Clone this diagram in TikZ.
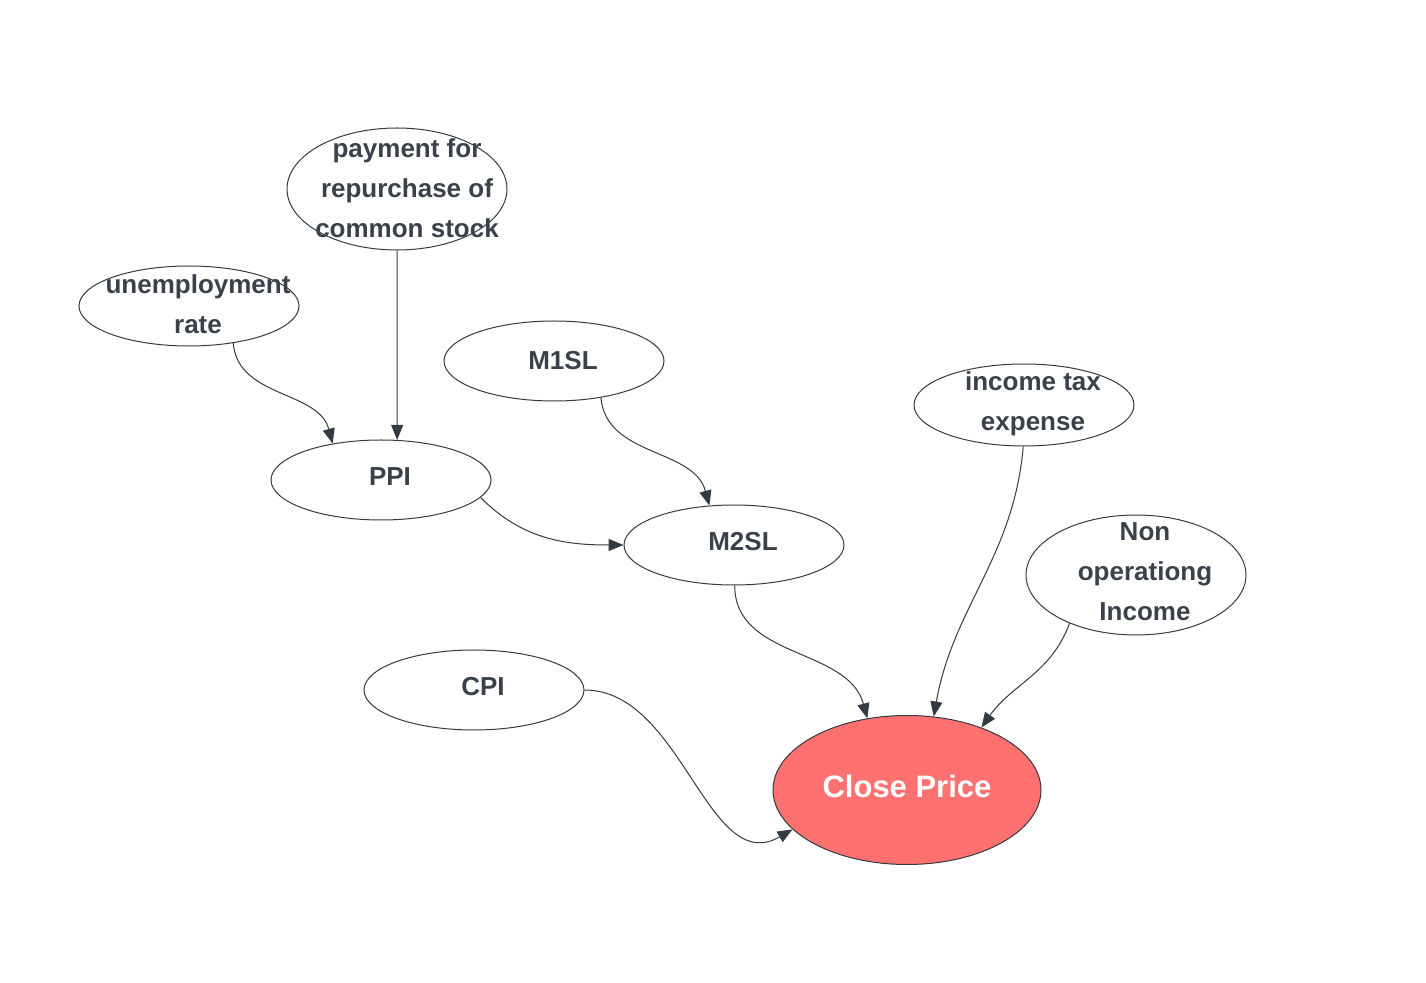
\documentclass[tikz,border=0pt]{standalone}
\usepackage{fontspec}
\setmainfont{Liberation Sans}
\usetikzlibrary{shapes.geometric,arrows.meta}
\definecolor{linec}{HTML}{333A42}
\definecolor{txtc}{HTML}{3A414A}
\definecolor{closec}{HTML}{FF7070}
\begin{document}
\begin{tikzpicture}[x=0.5pt,y=-0.5pt]
\tikzset{
  var/.style={ellipse, draw=linec, line width=0.5pt, inner sep=0pt,
    minimum width=110pt, minimum height=40pt},
  lbl/.style={font=\bfseries\fontsize{13}{20}\selectfont, text=txtc, align=center, inner sep=0pt},
  link/.style={draw=linec, line width=0.5pt, -{Triangle[length=7.5pt,width=6pt]}}
}
\useasboundingbox (0,0) rectangle (1426,983);
% variables
\node [var, minimum height=61pt] (pay) at (397,189) {};
\node [lbl] (pay-t) at (407,188) {payment for\\repurchase of\\common stock};
\node [var] (unemp) at (189,306) {};
\node [lbl] (unemp-t) at (198,304) {unemployment\\rate};
\node [var] (m1) at (554,361) {};
\node [lbl] (m1-t) at (563,361) {M1SL};
\node [var] (ppi) at (381,480) {};
\node [lbl] (ppi-t) at (390,477) {PPI};
\node [var] (m2) at (734,545) {};
\node [lbl] (m2-t) at (743,542) {M2SL};
\node [var, minimum height=41pt] (inc) at (1024,405) {};
\node [lbl] (inc-t) at (1033,404) {income tax\\expense};
\node [var, minimum height=60pt] (nonop) at (1136,575) {};
\node [lbl] (nonop-t) at (1145,572) {Non\\operationg\\Income};
\node [var] (cpi) at (474,690) {};
\node [lbl] (cpi-t) at (483,687) {CPI};
\node [var, fill=closec, minimum width=134pt, minimum height=74.5pt] (close) at (907,790) {};
\node [lbl, text=white, font=\bfseries\fontsize{15.5}{20}\selectfont] (close-t) at (907,786) {Close Price};
% links
\draw [link] (unemp.-40) to[out=-85, in=105] (ppi.143);
\draw [link] (pay.south) -- (ppi.68);
\draw [link] (m1.-38) to[out=-85, in=105] (m2.122);
\draw [link] (ppi.-10) to[out=-45, in=180] (m2.west);
\draw [link] (m2.-89) to[out=-90, in=105] (close.119);
\draw [link] (inc.-91) to[out=-95, in=80] (close.70);
\draw [link] (nonop.216) to[out=-110, in=55] (close.40);
\draw [link] (cpi.east) to[out=0, in=210] (close.199);
\end{tikzpicture}
\end{document}
